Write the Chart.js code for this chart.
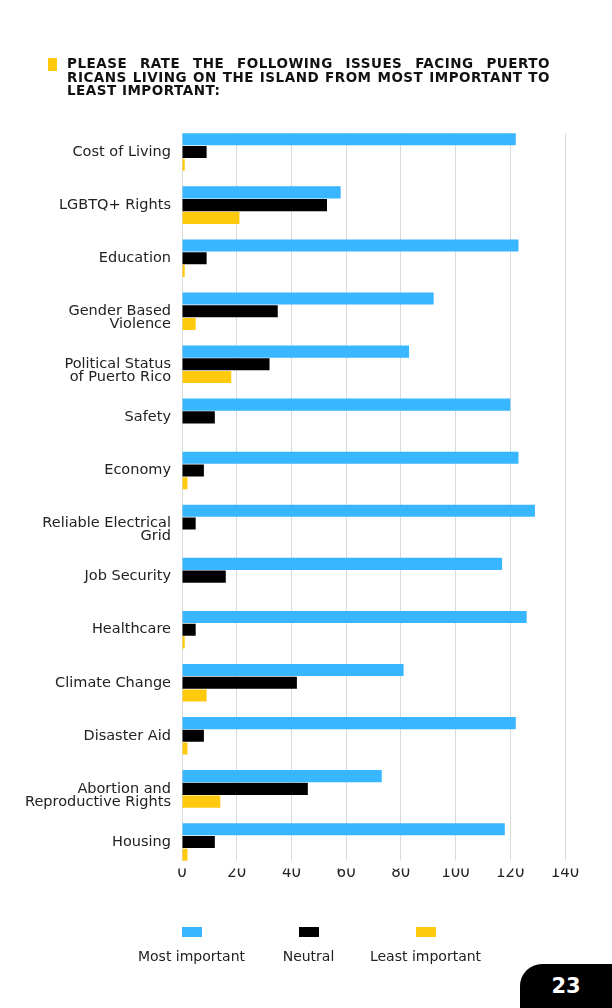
<!DOCTYPE html>
<html lang="en">
<head>
    <meta charset="UTF-8">
    <title>Issues facing Puerto Ricans</title>
    <script src="https://cdn.jsdelivr.net/npm/chart.js@4.4.1/dist/chart.umd.min.js"></script>
    <style>
        body { margin: 0; background: #fff; font-family: "DejaVu Sans", sans-serif; }
        #page { position: relative; width: 612px; height: 1008px; overflow: hidden; }
        #chart { position: absolute; left: 0; top: 0; }
        .mark { position: absolute; left: 48px; top: 58px; width: 9px; height: 13px; background: #ffc90e; }
        .title { position: absolute; left: 67px; top: 57px; width: 483px; font-weight: 700; font-size: 13.5px;
                 letter-spacing: 0.5px; line-height: 13.5px; color: #111; }
        .title div { text-align: justify; text-align-last: justify; white-space: nowrap; }
        .title div:last-child { text-align-last: left; }
        #legend { position: absolute; left: 133px; top: 927px; display: flex; }
        .item { width: 117px; text-align: center; font-size: 14px; color: #222; white-space: nowrap; }
        .box { width: 20px; height: 10px; margin: 0 auto 11px auto; }
        .pagenum { position: absolute; left: 520px; top: 964px; width: 92px; height: 44px; background: #000;
                   border-top-left-radius: 22px; color: #fff; font-weight: 700; font-size: 21px;
                   line-height: 44px; text-align: center; }
    </style>
</head>
<body>
<div id="page">
    <canvas id="chart" width="612" height="1008"></canvas>
    <div class="mark"></div>
    <div class="title">
        <div>PLEASE RATE THE FOLLOWING ISSUES FACING PUERTO</div>
        <div>RICANS LIVING ON THE ISLAND FROM MOST IMPORTANT TO</div>
        <div>LEAST IMPORTANT:</div>
    </div>
    <div id="legend"></div>
    <div class="pagenum">23</div>
</div>

<script>
    const categories = [
        "Cost of Living", "LGBTQ+ Rights", "Education", ["Gender Based", "Violence"],
        ["Political Status", "of Puerto Rico"], "Safety", "Economy", ["Reliable Electrical", "Grid"],
        "Job Security", "Healthcare", "Climate Change", "Disaster Aid",
        ["Abortion and", "Reproductive Rights"], "Housing"
    ];
    const mostImportant = [122, 58, 123, 92, 83, 120, 123, 129, 117, 126, 81, 122, 73, 118];
    const neutral = [9, 53, 9, 35, 32, 12, 8, 5, 16, 5, 42, 8, 46, 12];
    const leastImportant = [1, 21, 1, 5, 18, 0, 2, 0, 0, 1, 9, 2, 14, 2];
    const seriesNames = ["Most important", "Neutral", "Least important"];
    const seriesColors = ["#38b6ff", "#000000", "#ffc90e"];
    const xMax = 140;
    const xStep = 20;

    // hide the grid where the category padding sticks out above and below the bars
    const trimGrid = {
        id: "trimGrid",
        beforeDatasetsDraw(chart) {
            const a = chart.chartArea;
            const ctx = chart.ctx;
            ctx.save();
            ctx.fillStyle = "#fff";
            ctx.fillRect(a.left - 2, a.top - 1, a.right - a.left + 4, 8.5);
            ctx.fillRect(a.left - 2, a.bottom - 8, a.right - a.left + 4, 9);
            ctx.restore();
        }
    };

    const ctx = document.getElementById("chart").getContext("2d");
    const chart = new Chart(ctx, {
        type: "bar",
        data: {
            labels: categories,
            datasets: [mostImportant, neutral, leastImportant].map((d, i) => ({
                label: seriesNames[i],
                data: d,
                backgroundColor: seriesColors[i],
                categoryPercentage: 0.72,
                barPercentage: 0.95
            }))
        },
        options: {
            indexAxis: "y",
            responsive: false,
            animation: false,
            layout: { padding: { top: 125.5, right: 47, bottom: 119.5, left: 0 } },
            plugins: { legend: { display: false }, tooltip: { enabled: false } },
            scales: {
                x: {
                    min: 0,
                    max: xMax,
                    ticks: { stepSize: xStep, color: "#222", padding: -4, z: 1,
                             font: { family: "DejaVu Sans", size: 15 } },
                    grid: { color: "#dadada", lineWidth: 1, drawTicks: false },
                    border: { display: false },
                    afterFit: (s) => { s.height = 20; }
                },
                y: {
                    ticks: {
                        color: "#222", padding: 11,
                        font: { family: "DejaVu Sans", size: 14.5, lineHeight: 0.9 },
                        // two-line labels start at the bar centre, like the original
                        callback: (v, i) => Array.isArray(categories[i]) ? ["", ...categories[i]] : categories[i]
                    },
                    grid: { display: false, drawTicks: false },
                    border: { display: false },
                    afterFit: (s) => { s.width = 182; }
                }
            }
        },
        plugins: [trimGrid]
    });

    const legend = document.getElementById("legend");
    chart.data.datasets.forEach(ds => {
        const item = document.createElement("div");
        item.className = "item";
        item.innerHTML = '<div class="box" style="background:' + ds.backgroundColor + '"></div>' + ds.label;
        legend.appendChild(item);
    });
</script>
</body>
</html>
